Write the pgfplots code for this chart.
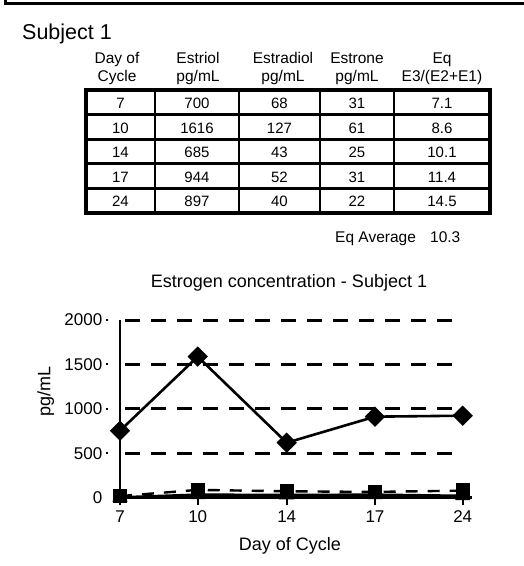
\documentclass[border=0pt]{standalone}
\usepackage{fontspec}
\setmainfont{Liberation Sans}
\usepackage{pgfplots}
\pgfplotsset{compat=1.18}
\newcommand\tdot{\hspace{4pt}\raisebox{0.3em}{\rule{2pt}{2pt}}}
\begin{document}
\begin{tikzpicture}
\begin{scope}[x=1pt,y=1pt]
\path[use as bounding box] (0,0) rectangle (524,566);
% frame (top and left)
\draw[line width=2.8pt] (5.3,566) -- (5.3,566-3.8) -- (524,566-3.8);
% title
\node[anchor=base west, inner sep=0pt, font=\fontsize{21.5}{24}\selectfont] at (22,566-40) {Subject 1};
% headers
\begin{scope}[every node/.style={anchor=base, inner sep=0pt, font=\fontsize{15.5}{18}\selectfont}]
\node at (117,566-64) {Day of};  \node at (117,566-82) {Cycle};
\node at (198,566-64) {Estriol}; \node at (198,566-82) {pg/mL};
\node at (283,566-64) {Estradiol}; \node at (283,566-82) {pg/mL};
\node at (357,566-64) {Estrone}; \node at (357,566-82) {pg/mL};
\node at (442,566-64) {Eq}; \node at (442,566-82) {E3/(E2+E1)};
\end{scope}
% table grid
\foreach \yy in {114.6,139.2,163.8,188.4} \draw[line width=2.8pt] (86,566-\yy) -- (490,566-\yy);
\foreach \xx in {155,239,320,394} \draw[line width=2.8pt] (\xx,566-90) -- (\xx,566-213);
\draw[line width=3.2pt] (86,566-90) rectangle (490,566-213);
% table cells
\begin{scope}[every node/.style={anchor=base, inner sep=0pt, font=\fontsize{15}{17}\selectfont}]
\node at (120.5,566-108.6) {7};  \node at (197,566-108.6) {700};  \node at (279.5,566-108.6) {68};  \node at (357,566-108.6) {31}; \node at (442,566-108.6) {7.1};
\node at (120.5,566-133.2) {10}; \node at (197,566-133.2) {1616}; \node at (279.5,566-133.2) {127}; \node at (357,566-133.2) {61}; \node at (442,566-133.2) {8.6};
\node at (120.5,566-157.8) {14}; \node at (197,566-157.8) {685}; \node at (279.5,566-157.8) {43}; \node at (357,566-157.8) {25}; \node at (442,566-157.8) {10.1};
\node at (120.5,566-182.4) {17}; \node at (197,566-182.4) {944}; \node at (279.5,566-182.4) {52}; \node at (357,566-182.4) {31}; \node at (442,566-182.4) {11.4};
\node at (120.5,566-207) {24}; \node at (197,566-207) {897}; \node at (279.5,566-207) {40}; \node at (357,566-207) {22}; \node at (442,566-207) {14.5};
\end{scope}
\node[anchor=base west, inner sep=0pt, font=\fontsize{15.5}{18}\selectfont] at (335,566-243) {Eq Average};
\node[anchor=base west, inner sep=0pt, font=\fontsize{15.5}{18}\selectfont] at (430,566-243) {10.3};
% chart title and labels
\node[anchor=base, inner sep=0pt, font=\fontsize{18}{20}\selectfont] at (289,566-287.3) {Estrogen concentration - Subject 1};
\node[anchor=base, inner sep=0pt, font=\fontsize{18}{20}\selectfont] at (290,566-550.7) {Day of Cycle};
\node[rotate=90, inner sep=0pt, font=\fontsize{18}{20}\selectfont] at (45.7,566-391.7) {pg/mL};
\end{scope}
\begin{axis}[
  at={(120pt,68.3pt)}, anchor=south west,
  scale only axis, width=351.7pt, height=177.7pt,
  xmin=0, xmax=4.105, ymin=0, ymax=2000,
  axis x line*=bottom, axis y line*=left,
  axis line style={line width=2.6pt},
  tick align=outside, major tick length=7pt,
  xtick={0,0.907,1.946,2.976,4}, xticklabels={7,10,14,17,24},
  xtick style={line width=2.2pt, black},
  ytick={0,500,1000,1500,2000},
  yticklabels={0\phantom{\tdot},500\tdot,1000\tdot,1500\tdot,2000\tdot},
  ytick style={draw=none},
  /pgf/number format/assume math mode=true,
  ticklabel style={font=\fontsize{17}{19}\selectfont, inner sep=0pt},
  xticklabel style={yshift=-6pt},
  yticklabel style={xshift=-4.5pt},
  clip=false,
]
\draw[line width=3pt, dash pattern=on 15pt off 11pt] (axis cs:0.06,500) -- (axis cs:4,500);
\draw[line width=3pt, dash pattern=on 15pt off 11pt] (axis cs:0.06,1000) -- (axis cs:4,1000);
\draw[line width=3pt, dash pattern=on 15pt off 11pt] (axis cs:0.06,1500) -- (axis cs:4,1500);
\draw[line width=3pt, dash pattern=on 15pt off 11pt] (axis cs:0.06,2000) -- (axis cs:4,2000);
% Estriol
\addplot[black, line width=2.6pt, mark=square*, mark size=5.9pt, mark options={rotate=45, solid}]
  coordinates {(0,754) (0.907,1588) (1.946,619) (2.976,912) (4,923)};
% Estradiol
\addplot[black, line width=2.4pt, dash pattern=on 12pt off 10pt, mark=square*, mark size=6pt, mark options={solid}]
  coordinates {(0,18) (0.907,88) (1.946,72) (2.976,65) (4,80)};
% Estrone
\addplot[black, line width=2.4pt, mark=triangle*, mark size=6.5pt, mark options={solid}]
  coordinates {(0,5) (0.907,35) (1.946,32) (2.976,35) (4,22)};
\end{axis}
\end{tikzpicture}
\end{document}
